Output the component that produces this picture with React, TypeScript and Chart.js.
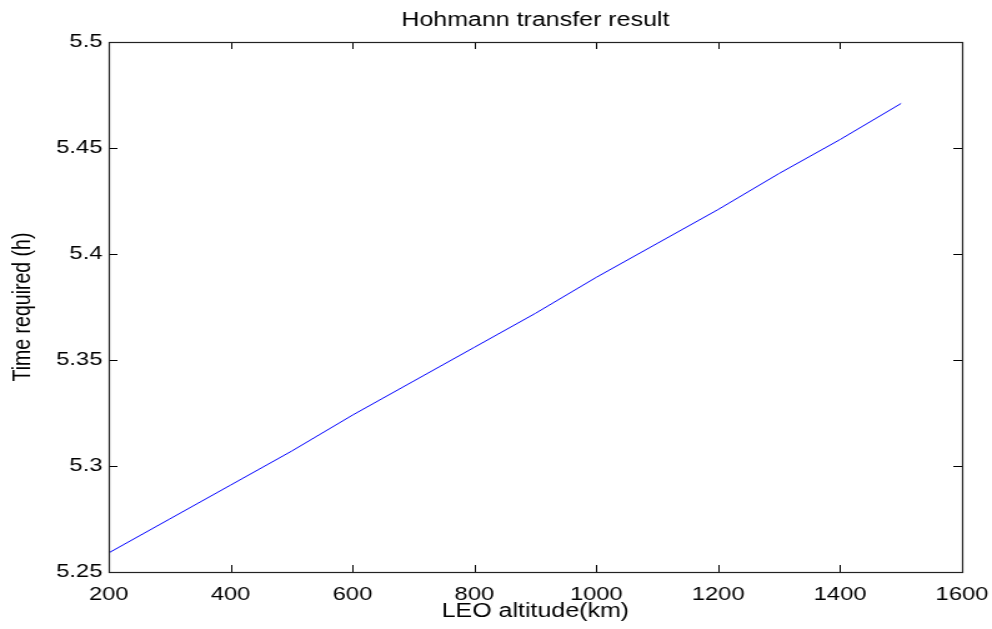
import React, { useEffect, useRef } from "react";
import { Chart, registerables } from "chart.js";

Chart.register(...registerables);

const altitudes = [200, 300, 400, 500, 600, 700, 800, 900, 1000, 1100, 1200, 1300, 1400, 1500];
const timeHours = [5.259, 5.275, 5.291, 5.307, 5.324, 5.340, 5.356, 5.372, 5.389, 5.405, 5.421, 5.438, 5.454, 5.471];
const xTicks = [200, 400, 600, 800, 1000, 1200, 1400, 1600];
const yTicks = [5.25, 5.3, 5.35, 5.4, 5.45, 5.5];
const titleText = "Hohmann transfer result";
const xTitle = "LEO altitude(km)";
const yTitle = "Time required (h)";

const INTERNAL_W = 794;
const H = 629;
const FONT = "'Liberation Sans', Arial, Helvetica, sans-serif";

const frameAndTicks = {
  id: "frameAndTicks",
  afterDraw(chart: any) {
    const { ctx, chartArea } = chart;
    const xs = chart.scales.x;
    const ys = chart.scales.y;
    const { left, right, top, bottom } = chartArea;
    ctx.save();
    ctx.strokeStyle = "#000";
    ctx.lineWidth = 1;
    ctx.beginPath();
    const tlv = 7;
    const tlh = 7;
    xTicks.forEach((v) => {
      const px = Math.round(xs.getPixelForValue(v)) + 0.5;
      ctx.moveTo(px, bottom);
      ctx.lineTo(px, bottom - tlv);
      ctx.moveTo(px, top);
      ctx.lineTo(px, top + tlv);
    });
    yTicks.forEach((v) => {
      const py = Math.round(ys.getPixelForValue(v)) + 0.5;
      ctx.moveTo(left, py);
      ctx.lineTo(left + tlh, py);
      ctx.moveTo(right, py);
      ctx.lineTo(right - tlh, py);
    });
    ctx.stroke();
    ctx.lineWidth = 1.2;
    ctx.strokeStyle = "#222";
    ctx.strokeRect(Math.round(left) + 0.5, Math.round(top) + 0.5, Math.round(right - left), Math.round(bottom - top));
    ctx.restore();
  },
};

export default function App() {
  const ref = useRef<HTMLCanvasElement | null>(null);
  useEffect(() => {
    const canvas = ref.current!;
    const chart = new Chart(canvas, {
      type: "line",
      data: {
        datasets: [
          {
            data: altitudes.map((a, i) => ({ x: a, y: timeHours[i] })),
            borderColor: "#0000ff",
            borderWidth: 1,
            pointRadius: 0,
            fill: false,
            tension: 0,
          },
        ],
      },
      options: {
        responsive: false,
        animation: false,
        devicePixelRatio: 1,
        layout: { padding: { left: 0, right: 24, top: 0, bottom: 0 } },
        plugins: {
          legend: { display: false },
          tooltip: { enabled: false },
          title: {
            display: true,
            fullSize: false,
            text: titleText,
            color: "#000",
            font: { family: FONT, size: 20, weight: "normal" },
            padding: { top: 8, bottom: 10 },
          },
        },
        scales: {
          x: {
            type: "linear",
            min: 200,
            max: 1600,
            afterBuildTicks: (scale: any) => {
              scale.ticks = xTicks.map((v) => ({ value: v }));
            },
            afterFit: (scale: any) => {
              scale.height = 57;
              scale.paddingRight = 0;
              scale.paddingLeft = 0;
            },
            grid: { display: false, drawTicks: false },
            border: { display: false },
            ticks: {
              color: "#000",
              padding: 11,
              maxRotation: 0,
              autoSkip: false,
              font: { family: FONT, size: 19 },
              callback: (v: any) => String(v),
            },
            title: {
              display: true,
              text: xTitle,
              color: "#000",
              font: { family: FONT, size: 20 },
              padding: { top: 0, bottom: 6 },
            },
          },
          y: {
            type: "linear",
            min: 5.25,
            max: 5.5,
            afterBuildTicks: (scale: any) => {
              scale.ticks = yTicks.map((v) => ({ value: v }));
            },
            afterFit: (scale: any) => {
              scale.width = 87;
            },
            grid: { display: false, drawTicks: false },
            border: { display: false },
            ticks: {
              color: "#000",
              padding: 5,
              autoSkip: false,
              font: { family: FONT, size: 19 },
              callback: (v: any) => String(Number(Number(v).toFixed(2))),
            },
            title: {
              display: true,
              text: yTitle,
              color: "#000",
              font: { family: FONT, size: 19.5 },
              padding: { top: 7, bottom: 0 },
            },
          },
        },
      },
      plugins: [frameAndTicks],
    } as any);
    return () => chart.destroy();
  }, []);
  return (
    <div style={{ position: "fixed", left: 0, top: 0, width: 992, height: H, background: "#fff" }}>
      <canvas
        ref={ref}
        width={INTERNAL_W}
        height={H}
        style={{ width: "992px", height: H + "px", display: "block" }}
      />
    </div>
  );
}
